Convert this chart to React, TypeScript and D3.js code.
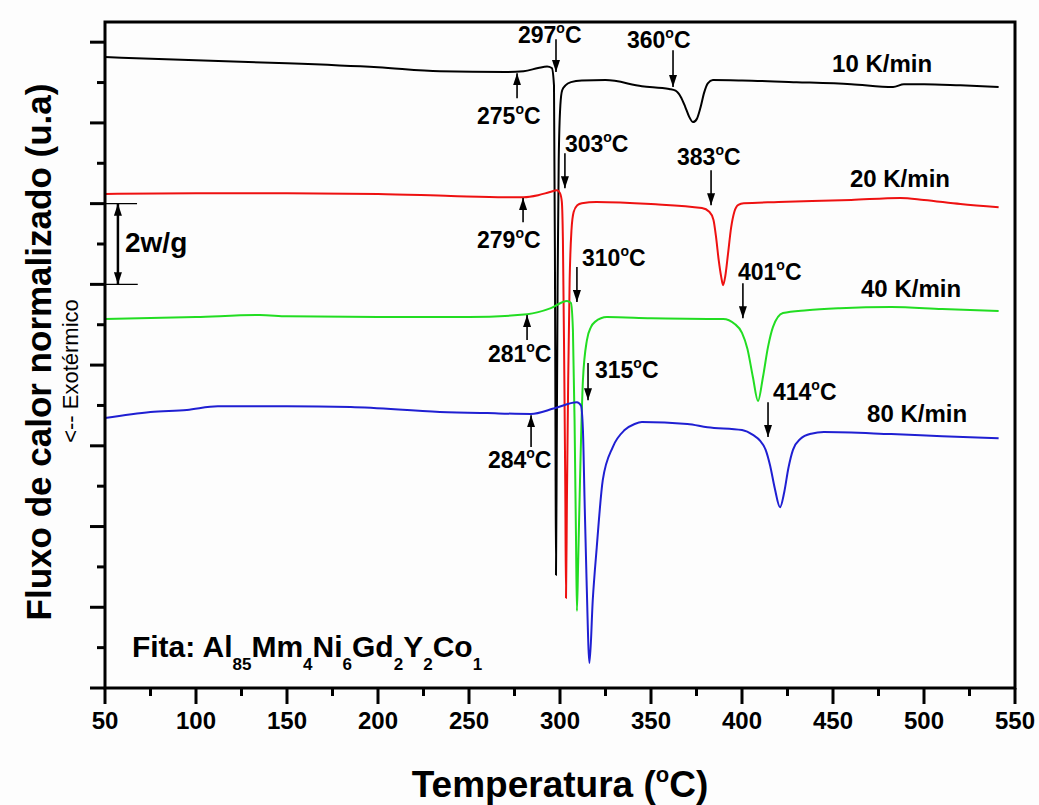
import React, { useEffect } from 'react';
import * as d3 from 'd3';

const W = 1039;
const H = 805;
const FONT = '"Liberation Sans", Arial, sans-serif';

// axis ticks (temperature in °C, heat flow in W/g, arbitrary offset)
const xTicks = [50, 100, 150, 200, 250, 300, 350, 400, 450, 500, 550];
const xMinorTicks = [75, 125, 175, 225, 275, 325, 375, 425, 475, 525];
const yTicks = [0, 2, 4, 6, 8, 10, 12, 14, 16];
const yMinorTicks = [1, 3, 5, 7, 9, 11, 13, 15];

// DSC curves: [temperature, heat flow]
const rate10: [number, number][] = [
  [50, 15.63], [100, 15.55], [150, 15.48], [200, 15.38], [234, 15.28], [270, 15.26],
  [280, 15.28], [288, 15.36], [292.9, 15.4], [295.5, 15.36], [296.7, 14.93], [297.2, 10.85],
  [297.5, 6.64], [297.8, 2.8], [298.2, 5.89], [298.7, 10.11], [299.3, 13.08], [300.2, 14.44],
  [301.2, 14.81], [303, 14.93], [306, 15.01], [312, 15.05], [325, 15.06], [345, 14.91],
  [360, 14.84], [363.5, 14.8], [366.3, 14.65], [368.8, 14.4], [371, 14.15], [373.1, 14.02],
  [375.2, 14.1], [377.2, 14.38], [379.2, 14.75], [381.2, 14.98], [384, 15.06], [400, 15.05],
  [430, 15.01], [460, 14.96], [483, 14.89], [489, 14.96], [500, 14.96], [520, 14.93],
  [541, 14.89],
];

const rate20: [number, number][] = [
  [50, 12.24], [100, 12.26], [150, 12.26], [200, 12.24], [240, 12.19], [270, 12.16],
  [280, 12.16], [288, 12.21], [294, 12.28], [298.4, 12.33], [300, 12.26], [301, 12.05],
  [301.6, 11.1], [302.3, 8.1], [302.9, 5.0], [303.3, 2.23], [303.8, 4.66], [304.5, 7.63],
  [305.3, 10.1], [306.3, 11.34], [307.5, 11.79], [309.5, 11.96], [312, 12.01], [320, 12.04],
  [350, 11.99], [378, 11.89], [382, 11.8], [384.3, 11.6], [385.8, 11.15], [387.2, 10.6],
  [388.6, 10.18], [389.6, 9.98], [390.8, 10.2], [392.3, 10.75], [394, 11.4], [395.8, 11.8],
  [398, 11.97], [401, 12.01], [420, 12.04], [460, 12.09], [487, 12.14], [500, 12.09],
  [520, 11.99], [541, 11.91],
];

const rate40: [number, number][] = [
  [50, 9.14], [100, 9.19], [135, 9.24], [150, 9.21], [200, 9.19], [250, 9.19],
  [282, 9.26], [295, 9.41], [303.8, 9.59], [306, 9.54], [307.1, 8.87], [308, 6.64],
  [308.8, 3.67], [309.3, 1.91], [310, 3.17], [311, 5.15], [312.6, 7.63], [314.8, 8.62],
  [317, 8.94], [319.2, 9.07], [325.8, 9.19], [350, 9.16], [389.6, 9.14], [396, 9.02],
  [400, 8.8], [403, 8.4], [406, 7.7], [408.8, 7.11], [411.5, 7.7], [414.3, 8.45],
  [417, 8.94], [422.5, 9.29], [435.7, 9.36], [453.8, 9.41], [482, 9.44], [510, 9.39],
  [541, 9.34],
];

const rate80: [number, number][] = [
  [50, 6.69], [75, 6.84], [95, 6.89], [112, 6.98], [150, 6.98], [185, 6.96],
  [234, 6.84], [260, 6.81], [284, 6.79], [297, 6.93], [309.3, 7.08], [311.5, 7.0],
  [312.6, 6.39], [313.5, 4.66], [314.6, 2.67], [316.2, 0.62], [318, 2.18], [320.2, 3.49],
  [323.5, 5.15], [329, 5.97], [335.5, 6.39], [341, 6.54], [345, 6.59], [370, 6.54],
  [381, 6.46], [400, 6.39], [406, 6.27], [410, 6.12], [413, 5.9], [415.5, 5.5],
  [418, 4.95], [420.9, 4.48], [423.2, 4.85], [425.5, 5.45], [428, 5.9], [432, 6.17],
  [438, 6.3], [445, 6.34], [482, 6.29], [510, 6.24], [541, 6.19],
];

const rateLabels = ['10 K/min', '20 K/min', '40 K/min', '80 K/min'];
const rateColors = ['#000000', '#ee1111', '#22dd22', '#1f1fd2'];
const rateCurves = [rate10, rate20, rate40, rate80];
const rateLabelPos: [number, number][] = [[449.5, 15.26], [459.3, 12.41], [465.4, 9.68], [468.7, 6.59]];

// characteristic temperatures: text, arrow temperature, arrow tail / head, label position
const peakTexts = ['297', '360', '275', '303', '383', '279', '310', '401', '281', '315', '414', '284'];
const peakArrows: [number, number, number][] = [
  [297.8, 16.07, 15.26], [362.1, 15.8, 14.89], [276.4, 14.61, 15.23],
  [302.7, 13.25, 12.38], [383.0, 12.83, 11.96], [279.7, 11.54, 12.14],
  [309.3, 10.43, 9.56], [400.5, 10.03, 9.16], [281.9, 8.62, 9.24],
  [315.4, 8.05, 7.13], [414.3, 7.08, 6.22], [284.1, 5.97, 6.76],
];
const peakLabelPos: [number, number][] = [
  [276.9, 15.98], [336.8, 15.85], [254.4, 13.97],
  [302.7, 13.28], [364.3, 12.95], [254.4, 10.9],
  [312.1, 10.45], [397.8, 10.11], [260.4, 8.07],
  [319.2, 7.68], [417.0, 7.13], [260.4, 5.45],
];

const sampleParts: [string, string][] = [['Al', '85'], ['Mm', '4'], ['Ni', '6'], ['Gd', '2'], ['Y', '2'], ['Co', '1']];

export default function App() {
  useEffect(() => {
    document.body.style.margin = '0';
  }, []);

  const x = d3.scaleLinear().domain([50, 550]).range([105, 1015]);
  const y = d3.scaleLinear().domain([0, 16.5]).range([688, 22]);
  const line = d3
    .line<[number, number]>()
    .x(d => x(d[0]))
    .y(d => y(d[1]))
    .curve(d3.curveMonotoneX);

  const [x0, x1] = x.range();
  const [y0, y1] = y.range();

  return (
    <svg width={W} height={H} style={{ display: 'block', background: '#fdfdfd' }} fontFamily={FONT}>
      <defs>
        <marker id="ah" viewBox="0 0 12 8" refX="12" refY="4" markerWidth="12" markerHeight="8"
          markerUnits="userSpaceOnUse" orient="auto-start-reverse">
          <path d="M0,0 L12,4 L0,8 Z" fill="#000" />
        </marker>
      </defs>

      {/* curves */}
      {rateCurves.map((c, i) => (
        <path key={i} d={line(c) || ''} fill="none" stroke={rateColors[i]} strokeWidth={2} strokeLinejoin="round" />
      ))}

      {/* frame */}
      <rect x={x0} y={y1} width={x1 - x0} height={y0 - y1} fill="none" stroke="#000" strokeWidth={3} />

      {/* x ticks */}
      {xTicks.map(t => (
        <line key={'xt' + t} x1={x(t)} x2={x(t)} y1={y0} y2={y0 + 16} stroke="#000" strokeWidth={3} />
      ))}
      {xMinorTicks.map(t => (
        <line key={'xm' + t} x1={x(t)} x2={x(t)} y1={y0} y2={y0 + 8} stroke="#000" strokeWidth={3} />
      ))}
      {xTicks.map(t => (
        <text key={'xl' + t} x={x(t)} y={729} textAnchor="middle" fontSize={24} fontWeight="bold">{t}</text>
      ))}

      {/* y ticks */}
      {yTicks.map(t => (
        <line key={'yt' + t} x1={x0 - 15} x2={x0} y1={y(t)} y2={y(t)} stroke="#000" strokeWidth={3} />
      ))}
      {yMinorTicks.map(t => (
        <line key={'ym' + t} x1={x0 - 8} x2={x0} y1={y(t)} y2={y(t)} stroke="#000" strokeWidth={3} />
      ))}

      {/* axis titles */}
      <text x={560} y={797} textAnchor="middle" fontSize={37} fontWeight="bold">
        Temperatura (<tspan fontSize={22} dy={-15}>o</tspan><tspan dy={15}>C)</tspan>
      </text>
      <text transform="translate(51,352) rotate(-90)" textAnchor="middle" fontSize={35} fontWeight="bold">
        Fluxo de calor normalizado (u.a)
      </text>
      <text transform="translate(78,371) rotate(-90)" textAnchor="middle" fontSize={22}>
        {'<-- Exotérmico'}
      </text>

      {/* rate labels */}
      {rateLabels.map((l, i) => (
        <text key={l} x={x(rateLabelPos[i][0])} y={y(rateLabelPos[i][1])} fontSize={24} fontWeight="bold">{l}</text>
      ))}

      {/* characteristic temperatures */}
      {peakTexts.map((t, i) => {
        const [at, from, to] = peakArrows[i];
        const [lt, lv] = peakLabelPos[i];
        return (
          <g key={'p' + i}>
            <line x1={x(at)} x2={x(at)} y1={y(from)} y2={y(to)} stroke="#000" strokeWidth={1.6} markerEnd="url(#ah)" />
            <text x={x(lt)} y={y(lv)} fontSize={23} fontWeight="bold">
              {t}<tspan fontSize={14} dy={-10}>o</tspan><tspan dy={10}>C</tspan>
            </text>
          </g>
        );
      })}

      {/* 2 W/g scale bar */}
      <line x1={x(50)} x2={x(67.6)} y1={y(12)} y2={y(12)} stroke="#000" strokeWidth={1.2} />
      <line x1={x(50)} x2={x(68)} y1={y(10)} y2={y(10)} stroke="#000" strokeWidth={1.2} />
      <line x1={x(57.1)} x2={x(57.1)} y1={y(12)} y2={y(10)} stroke="#000" strokeWidth={2.5}
        markerStart="url(#ah)" markerEnd="url(#ah)" />
      <text x={x(61)} y={y(10.8)} fontSize={28} fontWeight="bold">2w/g</text>

      {/* sample */}
      <text x={x(64.8)} y={y(0.77)} fontSize={30} fontWeight="bold">
        {'Fita: '}
        {sampleParts.map(([el, n], i) => (
          <React.Fragment key={i}>
            <tspan dy={i === 0 ? 0 : -13}>{el}</tspan>
            <tspan fontSize={17} dy={13}>{n}</tspan>
          </React.Fragment>
        ))}
      </text>
    </svg>
  );
}
